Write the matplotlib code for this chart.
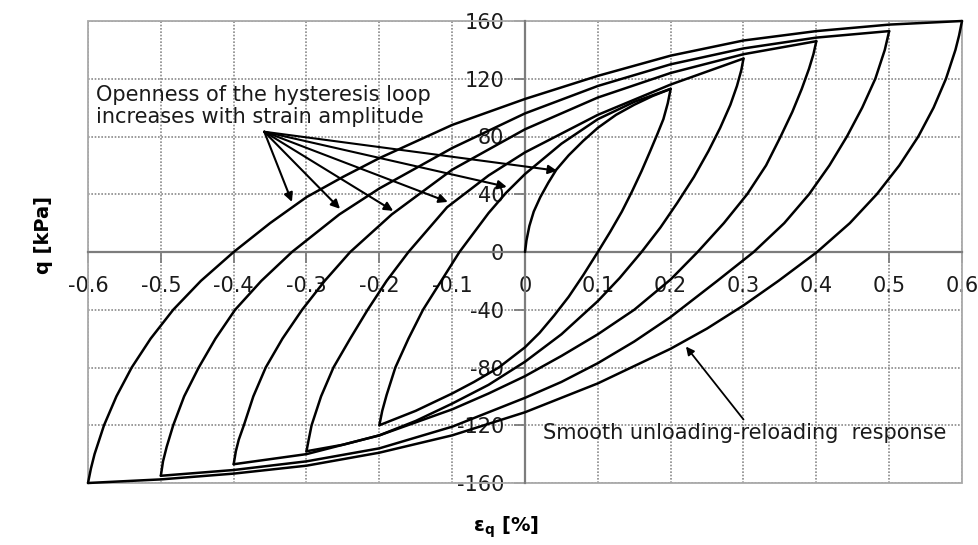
import matplotlib
matplotlib.use('Agg')
import matplotlib.pyplot as plt
from matplotlib.patches import Rectangle

plt.rcParams['font.family'] = ['DejaVu Sans']
plt.rcParams['axes.unicode_minus'] = False

# ---------------- data ----------------
x_ticks = [-0.6, -0.5, -0.4, -0.3, -0.2, -0.1, 0.0, 0.1, 0.2, 0.3, 0.4, 0.5, 0.6]
x_tick_labels = ['-0.6', '-0.5', '-0.4', '-0.3', '-0.2', '-0.1', '0',
                 '0.1', '0.2', '0.3', '0.4', '0.5', '0.6']
y_ticks = [-160, -120, -80, -40, 0, 40, 80, 120, 160]
y_tick_labels = ['-160', '-120', '-80', '-40', '0', '40', '80', '120', '160']

# initial (virgin) loading
eps_virgin = [0.0, 0.002, 0.006, 0.012, 0.021, 0.032, 0.043, 0.06, 0.08, 0.1, 0.125, 0.15, 0.175, 0.2]
q_virgin = [0, 8, 18, 28, 38, 48, 57, 67, 77, 86, 95, 102, 108, 113]

# reloading branches (from negative peak to positive peak)
eps_up_02 = [-0.2, -0.196, -0.19, -0.178, -0.16, -0.14, -0.115, -0.09, -0.05, -0.026, 0.0, 0.05, 0.1, 0.15, 0.2]
q_up_02 = [-120, -110, -99, -80, -60, -40, -20, 0, 27, 41, 54, 75, 92, 104, 113]

eps_up_03 = [-0.3, -0.297, -0.293, -0.28, -0.263, -0.24, -0.216, -0.19, -0.16, -0.107, -0.05, 0.0, 0.1, 0.2, 0.3]
q_up_03 = [-138, -130, -120, -100, -80, -60, -40, -20, 0, 31, 53, 69, 95, 116, 134]

eps_up_04 = [-0.4, -0.397, -0.393, -0.386, -0.373, -0.356, -0.333, -0.306, -0.275, -0.24, -0.183, -0.1, 0.0, 0.1, 0.2, 0.3, 0.4]
q_up_04 = [-147, -138, -130, -120, -100, -80, -60, -40, -20, 0, 26, 57, 85, 107, 124, 137, 146]

eps_up_05 = [-0.5, -0.497, -0.492, -0.483, -0.468, -0.448, -0.425, -0.398, -0.362, -0.32, -0.255, -0.2, -0.1, 0.0, 0.1, 0.2, 0.3, 0.4, 0.5]
q_up_05 = [-155, -145, -135, -120, -100, -80, -60, -40, -20, 0, 26, 44, 72, 96, 115, 130, 141, 148.5, 153]

eps_up_06 = [-0.6, -0.596, -0.591, -0.578, -0.561, -0.54, -0.514, -0.483, -0.445, -0.4, -0.35, -0.3, -0.25, -0.2, -0.1, 0.0, 0.1, 0.2, 0.3, 0.4, 0.5, 0.6]
q_up_06 = [-160, -150, -140, -120, -100, -80, -60, -40, -20, 0, 20, 38, 52, 65, 88, 106, 122, 136, 146.5, 153, 157.5, 160]

# unloading branches (from positive peak to negative peak)
eps_dn_02 = [0.2, 0.196, 0.19, 0.182, 0.172, 0.16, 0.147, 0.133, 0.117, 0.1, 0.08, 0.06, 0.04, 0.02, 0.0, -0.036, -0.07, -0.1, -0.15, -0.2]
q_dn_02 = [113, 103, 92, 82, 70, 56, 42, 28, 14, 0, -16, -31, -44, -56, -66, -80, -90, -98, -110, -120]

eps_dn_03 = [0.3, 0.297, 0.291, 0.282, 0.268, 0.252, 0.232, 0.209, 0.186, 0.16, 0.13, 0.1, 0.05, 0.0, -0.05, -0.1, -0.15, -0.2, -0.25, -0.3]
q_dn_03 = [134, 126, 115, 102, 86, 70, 52, 34, 17, 0, -18, -34, -57, -76, -92, -105, -117, -127, -133.5, -138]

eps_dn_04 = [0.4, 0.396, 0.39, 0.38, 0.367, 0.351, 0.331, 0.305, 0.273, 0.237, 0.2, 0.15, 0.1, 0.05, 0.0, -0.05, -0.1, -0.2, -0.3, -0.4]
q_dn_04 = [146, 137, 127, 113, 97, 80, 60, 40, 20, 0, -19, -40, -57, -72, -86, -98, -109, -127, -140, -147]

eps_dn_05 = [0.5, 0.494, 0.481, 0.463, 0.442, 0.418, 0.39, 0.356, 0.314, 0.264, 0.2, 0.15, 0.1, 0.05, 0.0, -0.1, -0.2, -0.3, -0.4, -0.5]
q_dn_05 = [153, 140, 120, 100, 80, 60, 40, 20, 0, -20, -45, -62, -77, -90, -101, -121, -136, -145, -151, -155]

eps_dn_06 = [0.6, 0.596, 0.591, 0.578, 0.561, 0.54, 0.514, 0.483, 0.446, 0.401, 0.348, 0.3, 0.25, 0.2, 0.1, 0.0, -0.1, -0.2, -0.3, -0.4, -0.5, -0.6]
q_dn_06 = [160, 150, 140, 120, 100, 80, 60, 40, 20, 0, -20, -37, -53, -67, -91, -111, -127, -139, -148, -153.5, -157.5, -160]

branches = [
    (eps_virgin, q_virgin),
    (eps_up_02, q_up_02), (eps_up_03, q_up_03), (eps_up_04, q_up_04),
    (eps_up_05, q_up_05), (eps_up_06, q_up_06),
    (eps_dn_02, q_dn_02), (eps_dn_03, q_dn_03), (eps_dn_04, q_dn_04),
    (eps_dn_05, q_dn_05), (eps_dn_06, q_dn_06),
]

# ---------------- figure ----------------
W, H = 979, 545
fig = plt.figure(figsize=(W / 100, H / 100), dpi=100)
ax = fig.add_axes([88 / W, 1 - 483 / H, 874 / W, 462 / H])
ax.set_xlim(-0.6, 0.6)
ax.set_ylim(-160, 160)

grid_col = '#8a8a8a'
ax.set_xticks(x_ticks)
ax.set_xticklabels(x_tick_labels)
ax.set_yticks(y_ticks)
ax.set_yticklabels(y_tick_labels)
ax.grid(True, color=grid_col, linestyle=(0, (1, 1)), linewidth=1.2, zorder=0)
ax.set_axisbelow(True)

for sp in ['top', 'right']:
    ax.spines[sp].set_visible(False)
ax.spines['left'].set_position(('data', 0))
ax.spines['bottom'].set_position(('data', 0))
for sp in ['left', 'bottom']:
    ax.spines[sp].set_color('#7d7d7d')
    ax.spines[sp].set_linewidth(1.6)
    ax.spines[sp].set_zorder(1)
ax.add_patch(Rectangle((0, 0), 1, 1, transform=ax.transAxes, fill=False,
                       edgecolor='#a9a9a9', linewidth=1.3, zorder=1, clip_on=False))

ax.tick_params(axis='both', direction='out', length=8, width=1.3, color='#7d7d7d',
               labelsize=15, pad=7, labelcolor='#1a1a1a')
ax.tick_params(axis='x', pad=9)

for e, q in branches:
    ax.plot(e, q, color='black', linewidth=1.8, solid_joinstyle='round',
            solid_capstyle='round', zorder=3, clip_on=False)

# annotations
anchor = (-0.358, 83.3)
tips = [(-0.32, 34.7), (-0.254, 29.9), (-0.181, 28.5), (-0.106, 34.7), (-0.025, 45.1), (0.044, 56.3)]
for t in tips:
    ax.annotate('', xy=t, xytext=anchor,
                arrowprops=dict(arrowstyle='-|>', color='black', lw=1.5,
                                mutation_scale=13, shrinkA=0, shrinkB=0), zorder=4)
ax.text(-0.589, 109, 'Openness of the hysteresis loop', fontsize=15, color='#1a1a1a',
        ha='left', va='center', zorder=5)
ax.text(-0.589, 93.5, 'increases with strain amplitude', fontsize=15, color='#1a1a1a',
        ha='left', va='center', zorder=5)

ax.annotate('', xy=(0.221, -65.5), xytext=(0.30, -116),
            arrowprops=dict(arrowstyle='-|>', color='black', lw=1.3,
                            mutation_scale=12, shrinkA=0, shrinkB=0), zorder=4)
ax.text(0.0247, -125.4, 'Smooth unloading-reloading  response', fontsize=15, color='#1a1a1a',
        ha='left', va='center', zorder=5)

fig.text(44 / W, 1 - 235 / H, 'q [kPa]', rotation=90, fontsize=14, fontweight='bold',
         ha='center', va='center')
fig.text(506 / W, 1 - 527 / H, r'ε$_{\mathbf{q}}$ [%]', fontsize=14, fontweight='bold',
         ha='center', va='center')

fig.savefig('out.png', dpi=100)
